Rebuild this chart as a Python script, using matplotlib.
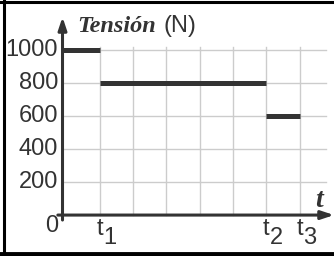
import numpy as np
import matplotlib
matplotlib.use('Agg')
import matplotlib.pyplot as plt
from matplotlib.lines import Line2D
from matplotlib import font_manager

# data
t_ticks = [1.12, 6.12, 7.12]          # t1, t2, t3
t_labels = ['1', '2', '3']
grid_x = [1.12, 2.12, 3.12, 4.12, 5.12, 6.12, 7.12]
y_ticks = [200, 400, 600, 800, 1000]
seg_start = [0, 1.12, 6.12]
seg_end = [1.12, 6.12, 7.12]
seg_val = [1000, 800, 600]

names = {f.name for f in font_manager.fontManager.ttflist}
sans = 'Liberation Sans Narrow' if 'Liberation Sans Narrow' in names else 'Liberation Sans'
serif = 'Liberation Serif'
dark = '#333333'

fig = plt.figure(figsize=(3.34, 2.56), dpi=100)
ax = fig.add_axes([0, 0, 1, 1])
ax.set_xlim(-1.877, 8.153)
ax.set_ylim(-248, 1303)
ax.axis('off')

# grid
for x in grid_x:
    ax.plot([x, x], [0, 1020], color='#cccccc', lw=1, zorder=1)
for y in y_ticks:
    ax.plot([0, 7.9], [y, y], color='#cccccc', lw=1, zorder=1)

# tension steps
for a, b, v in zip(seg_start, seg_end, seg_val):
    ax.plot([a, b], [v, v], color=dark, lw=3.6, solid_capstyle='butt', zorder=3)

# axes with arrows
arr = dict(arrowstyle='-|>,head_length=0.75,head_width=0.25', color=dark, lw=2.2,
           shrinkA=0, shrinkB=0)
ax.annotate('', xy=(0, 1200), xytext=(0, -30), arrowprops=arr, zorder=4)
ax.annotate('', xy=(8.153, 0), xytext=(-0.14, 0), arrowprops=arr, zorder=4)

# tick labels
for y in y_ticks:
    ax.text(-0.13, y, str(y), family=sans, fontsize=17, color=dark,
            ha='right', va='center')
ax.text(-0.32, -64, '0', family=sans, fontsize=17, color=dark, ha='center', va='center')
for x, s in zip(t_ticks, t_labels):
    ax.text(x, -15, 't', family=sans, fontsize=17, color=dark, ha='center', va='top')
    ax.text(x + 0.1, -75, s, family=sans, fontsize=17, color=dark, ha='left', va='top')

# axis titles
ax.text(0.45, 1109, 'Tensión', family=serif, fontsize=17.5, fontweight='bold',
        style='italic', color=dark, ha='left', va='baseline')
ax.text(3.02, 1109, '(N)', family=sans, fontsize=17, color=dark, ha='left', va='baseline')
ax.text(7.70, 48, 't', family=serif, fontsize=20, fontweight='bold',
        style='italic', color=dark, ha='center', va='baseline')

# frame (top, left, bottom)
fig.add_artist(Line2D([0, 1], [1 - 1.5/256] * 2, color='black', lw=2.2))
fig.add_artist(Line2D([3.5/334] * 2, [0, 1], color='black', lw=2.2))
fig.add_artist(Line2D([0, 1], [2.5/256] * 2, color='black', lw=3.5))

fig.savefig('out.png', dpi=100)
